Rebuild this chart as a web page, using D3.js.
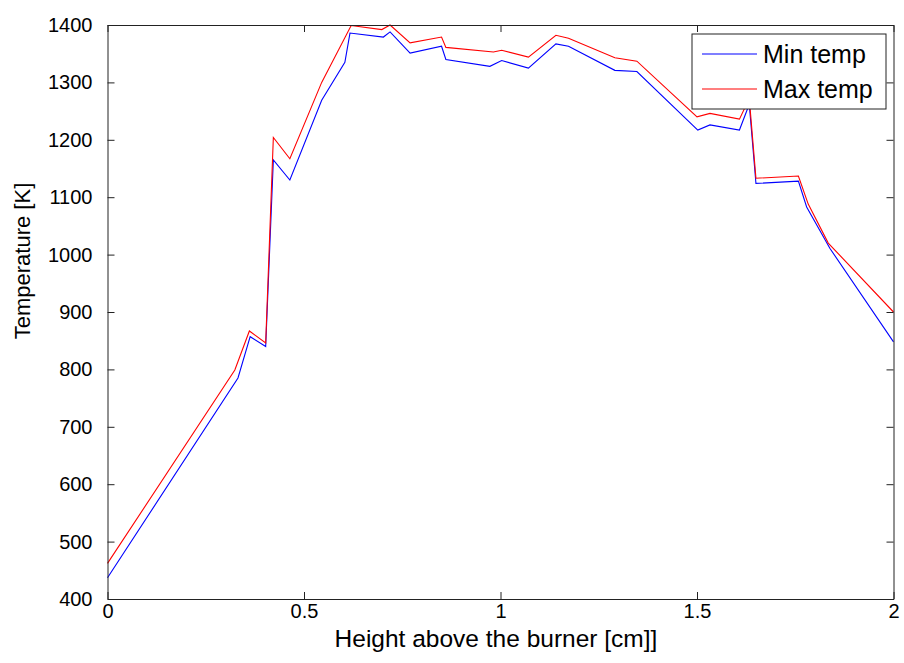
<!DOCTYPE html>
<html><head><meta charset="utf-8">
<script src="https://cdn.jsdelivr.net/npm/d3@7"></script>
<style>body{margin:0;background:#fff;} text{font-family:Arial,"Liberation Sans",sans-serif;}</style>
</head><body>
<svg id="c" width="904" height="663"></svg>
<script>
const xTicks = [0, 0.5, 1, 1.5, 2];
const yTicks = [400, 500, 600, 700, 800, 900, 1000, 1100, 1200, 1300, 1400];
const minX = [0, 0.332, 0.363, 0.4025, 0.422, 0.464, 0.545, 0.604, 0.617, 0.702, 0.719, 0.770, 0.850, 0.861, 0.973, 1.003, 1.071, 1.141, 1.173, 1.291, 1.347, 1.502, 1.533, 1.608, 1.633, 1.650, 1.758, 1.779, 1.838, 2.0];
const minT = [437, 785, 857, 840, 1165, 1130, 1269, 1335, 1386, 1379, 1388, 1351, 1363, 1340, 1328, 1338, 1325, 1367, 1363, 1321, 1319, 1217, 1226, 1217, 1262, 1124, 1128, 1083, 1011, 848];
const maxX = [0, 0.324, 0.361, 0.4025, 0.422, 0.464, 0.545, 0.62, 0.698, 0.719, 0.770, 0.850, 0.861, 0.982, 1.003, 1.071, 1.141, 1.173, 1.291, 1.347, 1.5, 1.533, 1.608, 1.633, 1.650, 1.758, 1.783, 1.834, 2.0];
const maxT = [462, 799, 867, 846, 1204, 1167, 1300, 1399, 1392, 1400, 1369, 1379, 1361, 1353, 1356, 1344, 1382, 1377, 1343, 1337, 1240, 1246, 1236, 1272, 1133, 1137, 1088, 1020, 900];
const seriesNames = ["Min temp", "Max temp"];
const seriesColors = ["#0000ff", "#ff0000"];

const svg = d3.select("#c");
const L = 107.5, R = 893.5, T = 25, B = 599;
const x = d3.scaleLinear().domain([0, 2]).range([L, R]);
const y = d3.scaleLinear().domain([400, 1400]).range([B, T]);

// data lines
const line = d3.line().x(d => x(d[0])).y(d => y(d[1]));
const series = [d3.zip(minX, minT), d3.zip(maxX, maxT)];
series.forEach((s, i) => {
  svg.append("path").datum(s).attr("d", line)
    .attr("fill", "none").attr("stroke", seriesColors[i]).attr("stroke-width", 1.1);
});

// axes (box with inward ticks on all sides)
const axisColor = "#222";
const tl = 7;
const gB = svg.append("g").attr("transform", `translate(0,${B})`)
  .call(d3.axisBottom(x).tickValues(xTicks).tickFormat(d3.format("")).tickSizeInner(-tl).tickSizeOuter(0).tickPadding(5));
const gT = svg.append("g").attr("transform", `translate(0,${T})`)
  .call(d3.axisTop(x).tickValues(xTicks).tickFormat("").tickSizeInner(-tl).tickSizeOuter(0));
const gL = svg.append("g").attr("transform", `translate(${L},0)`)
  .call(d3.axisLeft(y).tickValues(yTicks).tickFormat(d3.format("d")).tickSizeInner(-tl).tickSizeOuter(0).tickPadding(15));
const gR = svg.append("g").attr("transform", `translate(${R},0)`)
  .call(d3.axisRight(y).tickValues(yTicks).tickFormat("").tickSizeInner(-tl).tickSizeOuter(0));
[gB, gT, gL, gR].forEach(g => {
  g.select(".domain").attr("stroke", axisColor).attr("stroke-width", 1);
  g.selectAll(".tick line").attr("stroke", axisColor);
  g.selectAll("text").attr("font-size", 20).attr("fill", "#000")
    .attr("font-family", "Arial, 'Liberation Sans', sans-serif");
});
gB.selectAll("text").attr("dy", "0.71em");

// axis labels
svg.append("text").attr("x", 496).attr("y", 647).attr("text-anchor", "middle")
  .attr("font-size", 24.5).text("Height above the burner [cm]]");
svg.append("text").attr("transform", "translate(30,261) rotate(-90)").attr("text-anchor", "middle")
  .attr("font-size", 22).text("Temperature [K]");

// legend
const lg = svg.append("g");
lg.append("rect").attr("x", 692).attr("y", 34).attr("width", 194).attr("height", 75)
  .attr("fill", "#fff").attr("stroke", axisColor).attr("stroke-width", 1);
seriesNames.forEach((n, i) => {
  const ly = 54 + i * 35;
  lg.append("line").attr("x1", 702).attr("x2", 757).attr("y1", ly).attr("y2", ly)
    .attr("stroke", seriesColors[i]).attr("stroke-width", 1.1);
  lg.append("text").attr("x", 763).attr("y", ly + 9).attr("font-size", 25).text(n);
});
</script>
</body></html>
